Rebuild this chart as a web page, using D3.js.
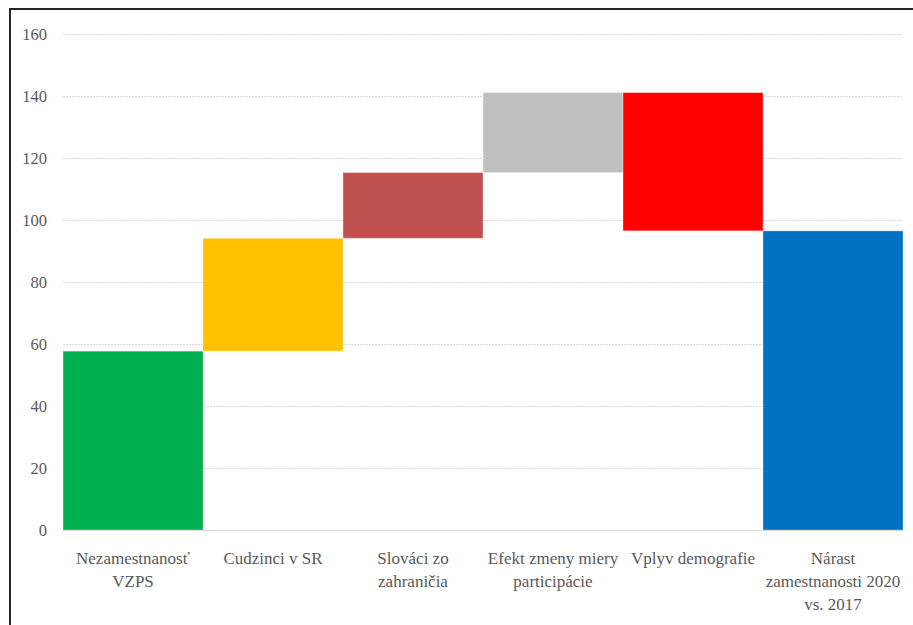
<!DOCTYPE html>
<html>
<head>
<meta charset="utf-8">
<script src="https://cdn.jsdelivr.net/npm/d3@7"></script>
<style>
  body { margin: 0; background: #fff; font-family: "Times New Roman", "Liberation Serif", serif; }
</style>
</head>
<body>
<div id="graph"></div>
<script>
// categories (label lines) and step values of the waterfall
var categories = [
  ["Nezamestnanosť", "VZPS"],
  ["Cudzinci v SR"],
  ["Slováci zo", "zahraničia"],
  ["Efekt zmeny miery", "participácie"],
  ["Vplyv demografie"],
  ["Nárast", "zamestnanosti 2020", "vs. 2017"]
];
var steps   = [57.7, 36.4, 21.2, 25.8, -44.6];
var isTotal = [false, false, false, false, false, true];
var colors  = ["#00b050", "#ffc000", "#c0504d", "#bfbfbf", "#ff0000", "#0070c0"];
var yTicks  = [0, 20, 40, 60, 80, 100, 120, 140, 160];

var FONT = "Times New Roman, Liberation Serif, serif";

var W = 913, H = 625;
var margin = { top: 34, left: 63 },
    width  = 903 - margin.left,
    height = 530 - margin.top;

var svg = d3.select("#graph").append("svg")
    .attr("width", W).attr("height", H)
    .attr("font-family", FONT);

// outer frame (only top and left edge visible)
svg.append("path")
  .attr("d", "M10,625 V9 H913")
  .attr("fill", "none").attr("stroke", "#262626").attr("stroke-width", 2);

var g = svg.append("g").attr("transform", `translate(${margin.left}, ${margin.top})`);

// build waterfall rows
var running = 0;
var rows = categories.map(function(c, i) {
  var lo, hi;
  if (isTotal[i]) { lo = 0; hi = running; }
  else {
    var s = steps[i];
    lo = Math.min(running, running + s);
    hi = Math.max(running, running + s);
    running += s;
  }
  return { key: i, lines: c, lo: lo, hi: hi, color: colors[i] };
});

var x = d3.scaleBand().domain(rows.map(d => d.key)).range([0, width]).padding(0);
var y = d3.scaleLinear().domain([0, 160]).range([height, 0]);

// gridlines
g.selectAll(".grid")
  .data(yTicks.filter(t => t > 0))
  .enter().append("line")
    .attr("x1", 0).attr("x2", width)
    .attr("y1", d => y(d) + 0.5).attr("y2", d => y(d) + 0.5)
    .attr("stroke", "#d9d9d9").attr("stroke-dasharray", "2,1");

// y tick labels
var yAxis = d3.axisLeft(y).tickValues(yTicks).tickSize(0).tickPadding(16);
var yAxisG = g.append("g").call(yAxis)
  .attr("font-family", FONT).attr("font-size", 16.5);
yAxisG.select(".domain").remove();
yAxisG.selectAll("text")
  .attr("fill", "#595959")
  .attr("dy", "0.35em");

// bars
g.selectAll(".bar")
  .data(rows)
  .enter().append("rect")
    .attr("x", d => x(d.key))
    .attr("width", x.bandwidth())
    .attr("y", d => y(d.hi))
    .attr("height", d => y(d.lo) - y(d.hi))
    .attr("fill", d => d.color)
    .attr("stroke", "#fff").attr("stroke-opacity", 0.35).attr("stroke-width", 1);

// baseline
g.append("line")
  .attr("x1", 0).attr("x2", width)
  .attr("y1", height + 0.5).attr("y2", height + 0.5)
  .attr("stroke", "#d9d9d9").attr("stroke-width", 1);

// category labels
var labels = g.selectAll(".cat")
  .data(rows)
  .enter().append("text")
    .attr("text-anchor", "middle")
    .attr("transform", d => `translate(${x(d.key) + x.bandwidth() / 2}, ${height + 34})`)
    .attr("font-size", 17)
    .attr("fill", "#595959");
labels.selectAll("tspan")
  .data(d => d.lines)
  .enter().append("tspan")
    .attr("x", 0)
    .attr("y", (d, i) => i * 23)
    .text(d => d);
</script>
</body>
</html>
